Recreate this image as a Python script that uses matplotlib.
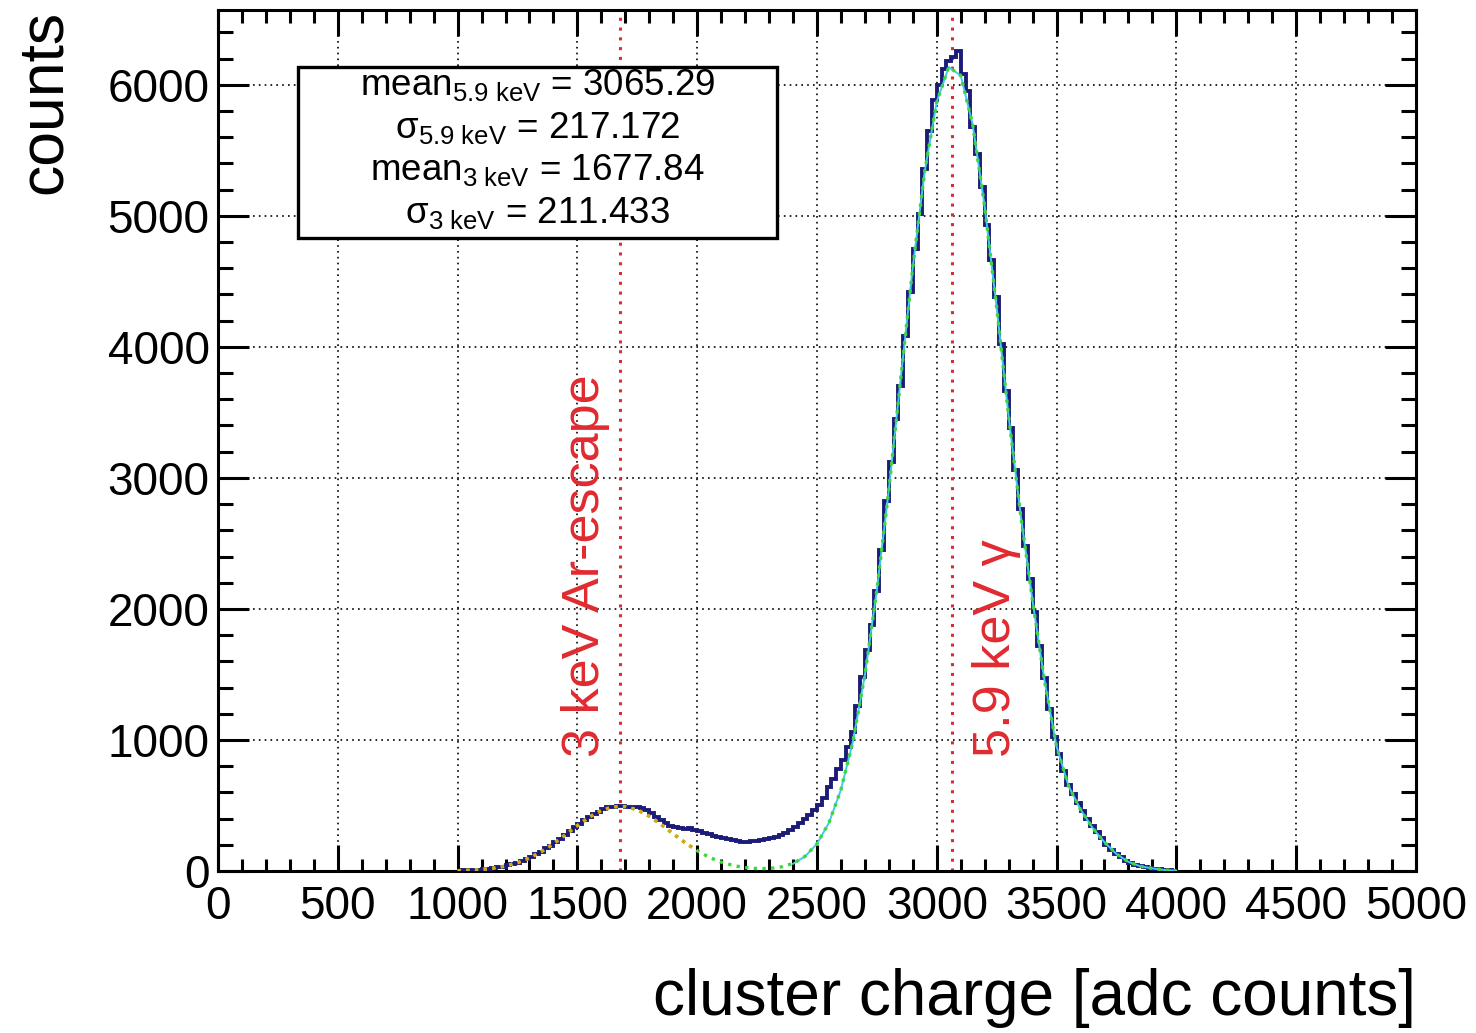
import numpy as np
import matplotlib
matplotlib.use('Agg')
import matplotlib.pyplot as plt
from matplotlib.patches import Rectangle
from matplotlib.ticker import MultipleLocator

plt.rcParams['font.family'] = ['Liberation Sans', 'DejaVu Sans']
plt.rcParams['mathtext.fontset'] = 'custom'
plt.rcParams['mathtext.rm'] = 'Liberation Sans'
plt.rcParams['mathtext.it'] = 'Liberation Sans:italic'

# histogram: 20 adc wide bins from 1000 to 4000
bin_lo = 1000
bin_width = 20
counts = [
    3, 5, 6, 8, 11, 13, 18, 21, 28, 33,
    43, 51, 64, 75, 92, 107, 128, 146, 172, 193,
    223, 246, 278, 302, 335, 358, 389, 410, 436, 452,
    472, 485, 490, 497, 494, 492, 490, 490, 480, 462,
    440, 415, 390, 365, 345, 335, 328, 322, 325, 315,
    305, 292, 280, 270, 262, 252, 245, 236, 228, 222,
    225, 230, 232, 238, 245, 255, 262, 275, 290, 312,
    335, 370, 398, 425, 462, 505, 560, 640, 700, 780,
    850, 950, 1060, 1260, 1480, 1690, 1880, 2140, 2450, 2820,
    3120, 3450, 3700, 4080, 4420, 4750, 5010, 5360, 5650, 5880,
    6000, 6120, 6180, 6210, 6260, 6080, 5950, 5680, 5470, 5220,
    4930, 4660, 4380, 4020, 3660, 3380, 3060, 2760, 2480, 2230,
    1980, 1720, 1470, 1240, 1020, 890, 760, 660, 590, 520,
    460, 400, 345, 300, 250, 200, 160, 130, 105, 80,
    62, 48, 36, 28, 22, 18, 12, 8, 5, 3,
]

# fit curves sampled every 50 adc counts
total_fit_x = list(range(1000, 4001, 50))
total_fit = [
    3, 6, 12, 22, 38, 63, 100, 148, 208, 276,
    347, 412, 462, 491, 492, 467, 418, 355, 284, 216,
    155, 105, 68, 42, 26, 19, 19, 31, 57, 112,
    207, 368, 620, 988, 1495, 2144, 2910, 3764, 4610, 5342,
    5870, 6135, 6070, 5696, 5070, 4300, 3470, 2720, 2060, 1450,
    950, 650, 470, 330, 220, 130, 70, 36, 20, 8,
    3,
]
main_fit_x = list(range(2400, 4001, 50))
main_fit = [
    55, 111, 207, 368, 620, 988, 1495, 2144, 2910, 3764, 4610, 5342,
    5870, 6135, 6070, 5696, 5070, 4300, 3470, 2720, 2060, 1450,
    950, 650, 470, 330, 220, 130, 70, 36, 20, 8, 3,
]
low_fit_x = list(range(1000, 2001, 50))
low_fit = [3, 6, 12, 22, 38, 63, 100, 148, 208, 276, 347, 412, 462,
           491, 492, 467, 418, 355, 284, 216, 155]

# fit results
mean_59 = 3065.29
sigma_59 = 217.172
mean_3 = 1677.84
sigma_3 = 211.433

fig = plt.figure(figsize=(14.76, 10.33), dpi=100)
ax = fig.add_axes([0.1477, 0.1568, 0.8116, 0.8335])

edges = bin_lo + bin_width * np.arange(len(counts) + 1)
ax.stairs(counts, edges, baseline=None, color='#1c1c78', lw=2.8, zorder=3)
ax.plot(main_fit_x, main_fit, color='#45c8f0', lw=1.4, zorder=4)
ax.plot(total_fit_x, total_fit, color='#3ad83a', lw=2.4, ls=(0, (1, 1.6)), zorder=5)
ax.plot(low_fit_x, low_fit, color='#e8a010', lw=2.4, ls=(0, (1, 1.6)), zorder=6)

# peak markers
for m in (mean_59, mean_3):
    ax.axvline(m, color='#e02a30', lw=2.2, ls=(0, (1, 2.2)), zorder=2)

ax.text(1532, 870, '3 keV Ar-escape', rotation=90, color='#e02a30',
        fontsize=37.5, ha='center', va='bottom', zorder=7)
ax.text(3251, 870, '5.9 keV γ', rotation=90, color='#e02a30',
        fontsize=37.5, ha='center', va='bottom', zorder=7)

ax.set_xlim(0, 5000)
ax.set_ylim(0, 6570)
ax.xaxis.set_major_locator(MultipleLocator(500))
ax.xaxis.set_minor_locator(MultipleLocator(100))
ax.yaxis.set_major_locator(MultipleLocator(1000))
ax.yaxis.set_minor_locator(MultipleLocator(200))
ax.grid(True, which='major', color='black', lw=1.2, ls=(0, (1, 2.5)), zorder=1)
ax.set_axisbelow(True)

ax.tick_params(which='both', direction='in', top=True, right=True,
               width=2.2, labelsize=33, colors='black')
ax.tick_params(axis='x', which='major', length=19, pad=10)
ax.tick_params(axis='x', which='minor', length=9)
ax.tick_params(axis='y', which='major', length=22, pad=6)
ax.tick_params(axis='y', which='minor', length=11)
for sp in ax.spines.values():
    sp.set_linewidth(2.2)

ax.set_xlabel('cluster charge [adc counts]', fontsize=46, loc='right', labelpad=28)
ax.set_ylabel('counts', fontsize=45, loc='top', labelpad=24)

# fit summary box
ax.add_patch(Rectangle((0.0668, 0.735), 0.4, 0.199, transform=ax.transAxes,
                       fill=True, facecolor='white', edgecolor='black', lw=2.4, zorder=8))
lines = [
    r'mean$_{\mathrm{5.9\ keV}}$ = %.2f' % mean_59,
    r'σ$_{\mathrm{5.9\ keV}}$ = %.3f' % sigma_59,
    r'mean$_{\mathrm{3\ keV}}$ = %.2f' % mean_3,
    r'σ$_{\mathrm{3\ keV}}$ = %.3f' % sigma_3,
]
for i, t in enumerate(lines):
    ax.text(0.267, 0.913 - i * 0.0495, t, transform=ax.transAxes, fontsize=26.5,
            ha='center', va='center', zorder=9)

fig.savefig('out.png', dpi=100)
